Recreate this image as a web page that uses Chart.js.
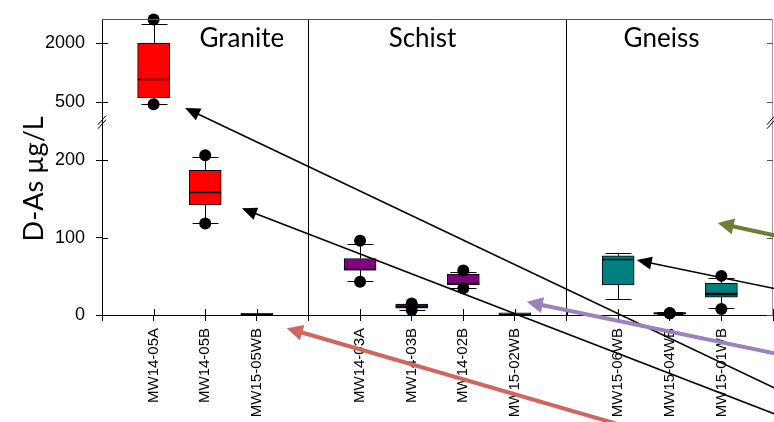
<!DOCTYPE html>
<html>
<head>
<meta charset="utf-8">
<script src="https://cdn.jsdelivr.net/npm/chart.js@4.4.1/dist/chart.umd.min.js"></script>
<style>
  html, body { margin: 0; padding: 0; background: #ffffff; overflow: hidden; }
  #wrap { width: 774px; height: 422px; overflow: hidden; }
  #chart { display: block; }
</style>
</head>
<body>
<div id="wrap"><canvas id="chart" width="779" height="422"></canvas></div>
<script>
// Wells along the x axis; blank entries are the gaps that separate the rock types.
const categories = ['', 'MW14-05A', 'MW14-05B', 'MW15-05WB', '',
  'MW14-03A', 'MW14-03B', 'MW14-02B', 'MW15-02WB', '',
  'MW15-06WB', 'MW15-04WB', 'MW15-01WB', ''];
const rockType = [null, 'Granite', 'Granite', 'Granite', null,
  'Schist', 'Schist', 'Schist', 'Schist', null,
  'Gneiss', 'Gneiss', 'Gneiss', null];

// Dissolved arsenic (µg/L) box statistics per well.
const whiskerLow  = [null, 450, 119,   null, null, 44.2, 7,    35.5, null, null, 20.8, 1.2, 8.6,  null];
const q1          = [null, 610, 142.5, 0.2,  null, 58.1, 8.7,  39,   0.3,  null, 39,   1.3, 23,   null];
const median      = [null, 1090, 159.5, 1,   null, 59.7, 11,   42,   1.5,  null, 72.3, 2.2, 27.3, null];
const mean        = [null, null, null, null, null, null, null, null, null, null, null, null, 29,   null];
const q3          = [null, 2000, 187,  2,    null, 73.1, 14,   53,   2.8,  null, 76.6, 3.2, 41.1, null];
const whiskerHigh = [null, 2490, 204,  null, null, 92.4, 14.5, 55,   null, null, 80,   3.4, 47.6, null];
const lowPoint    = [null, 442, 118.2, null, null, 42.9, 6.5,  34.6, null, null, null, 1.8, 7.8,  null];
const highPoint   = [null, 2600, 206.5, null, null, 96,  15,   57.6, null, null, null, 2.6, 50.6, null];

// Tick values for the two segments of the broken y axis.
const lowerTicks = [0, 100, 200];
const upperTicks = [500, 2000];

const rockColors = { Granite: '#ff0000', Schist: '#800080', Gneiss: '#008080' };

const LOWER_MAX = 250;
const UPPER_MAX = 2610;
const onUpper = q3.map(v => v != null && v > LOWER_MAX);

const fillColors = rockType.map(r => r ? rockColors[r] : 'transparent');

function boxes(upper) {
  return categories.map((_, i) =>
    (q1[i] != null && onUpper[i] === upper) ? [q1[i], q3[i]] : null);
}
function points(upper) {
  const out = [];
  categories.forEach((label, i) => {
    if (onUpper[i] !== upper) return;
    if (lowPoint[i] != null) out.push({ x: label, y: lowPoint[i] });
    if (highPoint[i] != null) out.push({ x: label, y: highPoint[i] });
  });
  return out;
}

const FONT = "'Liberation Sans', Arial, sans-serif";
const LABEL_FONT = "Lato, 'Open Sans', sans-serif";

// Annotation arrows: tip given in data units, shaft runs off to the lower right.
const arrows = [
  { x: 1.61,  v: 348, axis: 'yTop', dy: 0.475, color: '#000000', lw: 1.6, head: 15, half: 6.5 },
  { x: 2.71,  v: 138, axis: 'y',    dy: 0.386, color: '#000000', lw: 1.6, head: 15, half: 6.5 },
  { x: 10.36, v: 71,  axis: 'y',    dy: 0.207, color: '#000000', lw: 1.6, head: 15, half: 6.5 },
  { x: 8.23,  v: 17,  axis: 'y',    dy: 0.208, color: '#9a82bd', lw: 4,   head: 16, half: 8 },
  { x: 11.93, v: 119, axis: 'y',    dy: 0.218, color: '#6b7f3a', lw: 4,   head: 16, half: 8 },
  { x: 3.58,  v: -17, axis: 'y',    dy: 0.29,  color: '#d0665e', lw: 4,   head: 16, half: 8 }
];
const sectionLabels = [
  { text: 'Granite', x: 2.71 },
  { text: 'Schist',  x: 6.21 },
  { text: 'Gneiss',  x: 10.84 }
];

function axisFor(chart, i) {
  return onUpper[i] ? chart.scales.yTop : chart.scales.y;
}

const boxParts = {
  id: 'boxParts',
  beforeDatasetsDraw(chart) {
    const { ctx, scales } = chart;
    const xs = scales.x;
    ctx.save();
    ctx.strokeStyle = '#000';
    ctx.lineWidth = 1;
    categories.forEach((_, i) => {
      if (q1[i] == null) return;
      const ys = axisFor(chart, i);
      const cx = Math.round(xs.getPixelForValue(i)) + 0.5;
      const cap = 13;
      const seg = (a, b) => {
        if (a == null || b == null) return;
        ctx.beginPath();
        ctx.moveTo(cx, ys.getPixelForValue(a));
        ctx.lineTo(cx, ys.getPixelForValue(b));
        ctx.stroke();
      };
      const capAt = v => {
        if (v == null) return;
        const y = Math.round(ys.getPixelForValue(v)) + 0.5;
        ctx.beginPath();
        ctx.moveTo(cx - cap, y);
        ctx.lineTo(cx + cap, y);
        ctx.stroke();
      };
      seg(whiskerLow[i], q1[i]);
      seg(q3[i], whiskerHigh[i]);
      capAt(whiskerLow[i]);
      capAt(whiskerHigh[i]);
    });
    ctx.restore();
  },
  afterDatasetDraw(chart, args) {
    if (args.meta.type !== 'bar') return;
    const { ctx, scales } = chart;
    const xs = scales.x;
    const upper = args.meta.yAxisID === 'yTop';
    ctx.save();
    ctx.strokeStyle = '#000';
    ctx.lineWidth = 1.4;
    categories.forEach((_, i) => {
      if (q1[i] == null || onUpper[i] !== upper) return;
      const ys = axisFor(chart, i);
      const cx = xs.getPixelForValue(i);
      [median[i], mean[i]].forEach(v => {
        if (v == null) return;
        const y = Math.round(ys.getPixelForValue(v)) + 0.5;
        ctx.beginPath();
        ctx.moveTo(cx - 16, y);
        ctx.lineTo(cx + 16, y);
        ctx.stroke();
      });
    });
    ctx.restore();
  }
};

const frame = {
  id: 'frame',
  afterDraw(chart) {
    const { ctx, chartArea: a, scales } = chart;
    ctx.save();
    // top and right edges of the frame
    ctx.lineWidth = 1;
    ctx.strokeStyle = '#555';
    ctx.beginPath();
    ctx.moveTo(a.left, a.top + 0.5);
    ctx.lineTo(a.right, a.top + 0.5);
    ctx.stroke();
    ctx.strokeStyle = '#9a9a9a';
    ctx.beginPath();
    ctx.moveTo(a.right - 0.5, a.top);
    ctx.lineTo(a.right - 0.5, a.bottom);
    ctx.stroke();

    // inward tick marks
    [scales.y, scales.yTop].forEach(s => {
      s.ticks.forEach(t => {
        const y = Math.round(s.getPixelForValue(t.value)) + 0.5;
        ctx.strokeStyle = '#000';
        ctx.beginPath();
        ctx.moveTo(a.left, y);
        ctx.lineTo(a.left + 6, y);
        ctx.stroke();
        ctx.strokeStyle = '#555';
        ctx.beginPath();
        ctx.moveTo(a.right - 6, y);
        ctx.lineTo(a.right, y);
        ctx.stroke();
      });
    });
    ctx.strokeStyle = '#000';
    scales.x.ticks.forEach((t, i) => {
      const x = Math.round(scales.x.getPixelForTick(i)) + 0.5;
      ctx.beginPath();
      ctx.moveTo(x, a.bottom);
      ctx.lineTo(x, a.bottom - 6);
      ctx.stroke();
    });

    // axis break marks between the two segments
    const yb = scales.yTop.bottom;
    [a.left, a.right - 2].forEach(x0 => {
      ctx.strokeStyle = '#000';
      ctx.lineWidth = 1;
      [-2, 2].forEach(off => {
        ctx.beginPath();
        ctx.moveTo(x0 - 4, yb + off + 5);
        ctx.lineTo(x0 + 4, yb + off - 4);
        ctx.stroke();
      });
    });

    // rock type headings
    ctx.fillStyle = '#000';
    ctx.font = '26px ' + LABEL_FONT;
    ctx.textAlign = 'center';
    ctx.textBaseline = 'alphabetic';
    sectionLabels.forEach(l => {
      ctx.fillText(l.text, scales.x.getPixelForValue(l.x), a.top + 28);
    });

    // y axis title spanning both segments
    ctx.save();
    ctx.translate(34, a.top + a.height * 0.54);
    ctx.rotate(-Math.PI / 2);
    ctx.font = '27px ' + LABEL_FONT;
    ctx.textBaseline = 'middle';
    ctx.fillText('D-As µg/L', 0, 0);
    ctx.restore();

    // annotation arrows
    arrows.forEach(ar => {
      const tx = scales.x.getPixelForValue(ar.x);
      const ty = scales[ar.axis].getPixelForValue(ar.v);
      const len = Math.hypot(1, ar.dy);
      const ux = 1 / len, uy = ar.dy / len;
      const bx = tx + ux * ar.head, by = ty + uy * ar.head;
      ctx.strokeStyle = ar.color;
      ctx.fillStyle = ar.color;
      ctx.lineWidth = ar.lw;
      ctx.beginPath();
      ctx.moveTo(bx - ux * 2, by - uy * 2);
      ctx.lineTo(tx + ux * 1200, ty + uy * 1200);
      ctx.stroke();
      ctx.beginPath();
      ctx.moveTo(tx, ty);
      ctx.lineTo(bx - uy * ar.half, by + ux * ar.half);
      ctx.lineTo(bx + uy * ar.half, by - ux * ar.half);
      ctx.closePath();
      ctx.fill();
    });
    ctx.restore();
  }
};

function fixWidth(scale) {
  scale.width = 102;
  scale.paddingTop = 0;
  scale.paddingBottom = 0;
}

const yGrid = {
  display: true,
  drawOnChartArea: false,
  drawTicks: true,
  tickLength: 6,
  tickColor: '#000',
  color: '#000'
};
const yTickStyle = {
  padding: 11, color: '#000', font: { family: FONT, size: 18 },
  callback: v => String(v)
};

new Chart(document.getElementById('chart'), {
  type: 'bar',
  data: {
    labels: categories,
    datasets: [
      {
        type: 'scatter', data: points(true), yAxisID: 'yTop', order: 0,
        pointRadius: 6, pointHoverRadius: 6, backgroundColor: '#000', borderWidth: 0, clip: false
      },
      {
        type: 'scatter', data: points(false), yAxisID: 'y', order: 0,
        pointRadius: 6, pointHoverRadius: 6, backgroundColor: '#000', borderWidth: 0, clip: false
      },
      {
        data: boxes(true), yAxisID: 'yTop', order: 1, grouped: false,
        backgroundColor: fillColors, borderColor: '#000', borderWidth: 1,
        borderSkipped: false, barThickness: 32, clip: false
      },
      {
        data: boxes(false), yAxisID: 'y', order: 1, grouped: false,
        backgroundColor: fillColors, borderColor: '#000', borderWidth: 1,
        borderSkipped: false, barThickness: 32, clip: false
      }
    ]
  },
  options: {
    responsive: false,
    animation: false,
    events: [],
    layout: { padding: { top: 19, right: 0, left: 0, bottom: 0 } },
    plugins: { legend: { display: false }, tooltip: { enabled: false } },
    scales: {
      x: {
        type: 'category',
        offset: false,
        grid: {
          display: true,
          offset: false,
          drawOnChartArea: true,
          drawTicks: true,
          tickLength: 6,
          tickColor: '#000',
          color: ctx => (ctx.index === 4 || ctx.index === 9) ? '#000' : 'rgba(0,0,0,0)',
          lineWidth: 1
        },
        border: { display: true, color: '#000', width: 1 },
        ticks: {
          autoSkip: false, maxRotation: 90, minRotation: 90, padding: 7,
          color: '#000', font: { family: FONT, size: 15 }
        },
        afterFit(scale) {
          scale.height = 107;
          scale.paddingLeft = 0;
          scale.paddingRight = 0;
        }
      },
      y: {
        type: 'linear', position: 'left', stack: 'split', stackWeight: 193.3,
        min: 0, max: LOWER_MAX,
        grid: yGrid,
        border: { display: true, color: '#000', width: 1 },
        ticks: yTickStyle,
        afterBuildTicks(scale) { scale.ticks = lowerTicks.map(v => ({ value: v })); },
        afterFit: fixWidth
      },
      yTop: {
        type: 'linear', position: 'left', stack: 'split', stackWeight: 102.7,
        min: 0, max: UPPER_MAX,
        grid: yGrid,
        border: { display: true, color: '#000', width: 1 },
        ticks: yTickStyle,
        afterBuildTicks(scale) { scale.ticks = upperTicks.map(v => ({ value: v })); },
        afterFit: fixWidth
      }
    }
  },
  plugins: [boxParts, frame]
});
</script>
</body>
</html>
